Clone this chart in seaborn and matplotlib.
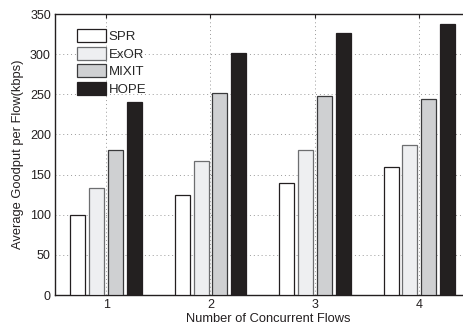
import matplotlib
matplotlib.use("Agg")
import matplotlib.pyplot as plt
import seaborn as sns
import pandas as pd
from matplotlib.patches import Patch

flows = ["1", "2", "3", "4"]
protocols = ["SPR", "ExOR", "MIXIT", "HOPE"]
spr = [100, 125, 140, 160]
exor = [133, 167, 181, 187]
mixit = [180, 252, 248, 244]
hope = [241, 301, 326, 338]

fills = ["#ffffff", "#eeeff1", "#cfd0d2", "#231f20"]
edges = ["#231f20", "#6d6e70", "#3a3a3c", "#231f20"]

rows = []
for p, vals in zip(protocols, [spr, exor, mixit, hope]):
    for f, v in zip(flows, vals):
        rows.append({"flows": f, "protocol": p, "goodput": v})
df = pd.DataFrame(rows)

sns.set_style("white")
plt.rcParams["font.family"] = ["Liberation Sans", "DejaVu Sans"]

fig = plt.figure(figsize=(4.64, 3.25), dpi=100)
ax = fig.add_axes([0.1185, 0.0923, 0.92, 0.8646])

sns.barplot(data=df, x="flows", y="goodput", hue="protocol", order=flows,
            hue_order=protocols, palette=fills, width=0.72, gap=0.2,
            ax=ax, errorbar=None, legend=False, zorder=3)

for cont, ec in zip(ax.containers, edges):
    for bar in cont:
        bar.set_edgecolor(ec)
        bar.set_linewidth(0.9)

ax.set_xlim(-0.49, 3.6)
ax.set_ylim(0, 350)
ax.set_yticks(range(0, 351, 50))
ax.set_xticks(range(4))
ax.set_xticklabels(flows)

ax.grid(True, linestyle=(0, (1, 3)), color="#999999", linewidth=0.7, zorder=0)
ax.set_axisbelow(True)
for s in ax.spines.values():
    s.set_visible(True)
    s.set_color("#231f20")
    s.set_linewidth(1.0)
ax.tick_params(direction="in", top=True, right=True, length=3, width=0.8,
               labelsize=9, colors="#231f20", pad=3)

ax.set_xlabel("Number of Concurrent Flows", fontsize=9.3, color="#231f20", labelpad=1)
ax.set_ylabel("Average Goodput per Flow(kbps)", fontsize=9.3, color="#231f20", labelpad=4)

handles = [Patch(facecolor=f, edgecolor=e, linewidth=0.9) for f, e in zip(fills, edges)]
ax.legend(handles, protocols, loc="upper left", bbox_to_anchor=(0.052, 0.945),
          frameon=False, fontsize=9.5, handlelength=2.15, handleheight=1.1,
          handletextpad=0.25, labelspacing=0.28, borderaxespad=0, borderpad=0)

fig.savefig("out.png", dpi=100)
